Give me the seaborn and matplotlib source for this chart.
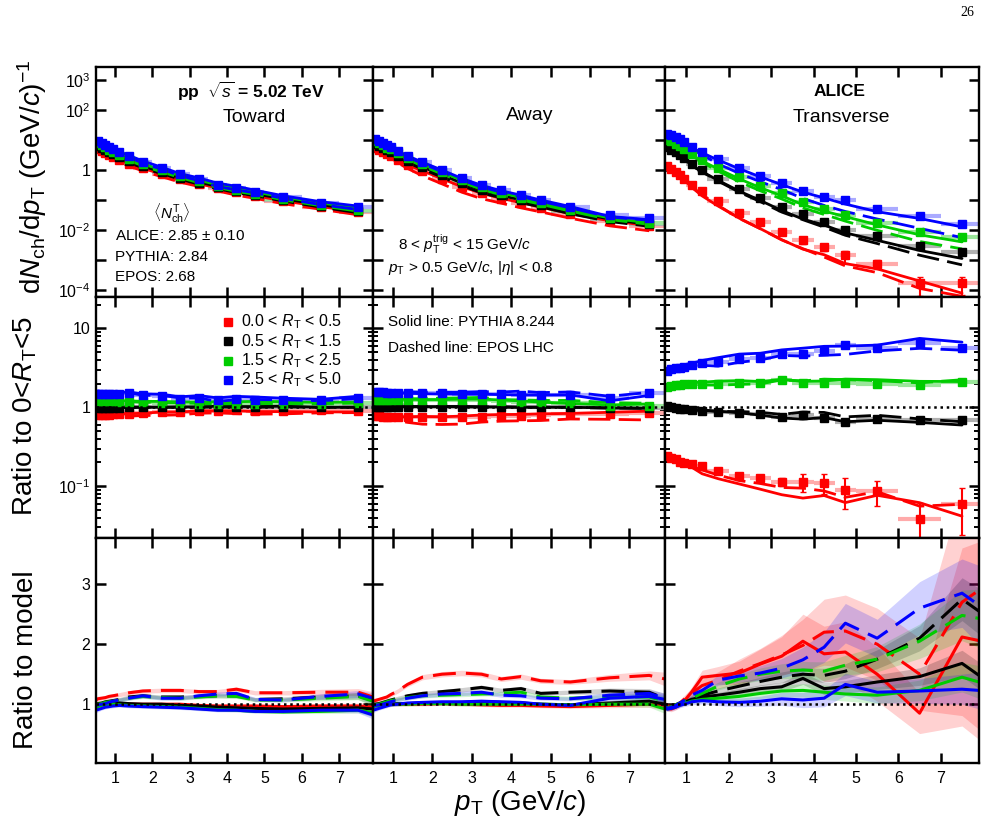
import numpy as np
import matplotlib
matplotlib.use("Agg")
import matplotlib.pyplot as plt
import seaborn as sns
from matplotlib.ticker import FixedLocator, NullLocator, LogLocator, FuncFormatter, NullFormatter

sns.set_theme(style="ticks")
plt.rcParams['font.family'] = ['Liberation Sans', 'DejaVu Sans']
plt.rcParams['mathtext.fontset'] = 'custom'
plt.rcParams['mathtext.rm'] = 'Liberation Sans'
plt.rcParams['mathtext.it'] = 'Liberation Sans:italic'
plt.rcParams['mathtext.bf'] = 'Liberation Sans:bold'
for k in ['text.color', 'axes.labelcolor', 'xtick.color', 'ytick.color', 'axes.edgecolor']:
    plt.rcParams[k] = 'black'

# ===== pT bins =====
pt_edges = [0.5, 0.6, 0.7, 0.8, 0.9, 1.0, 1.25, 1.5, 2.0, 2.5, 3.0, 3.5, 4.0, 4.5, 5.0, 6.0, 7.0, 8.0]
model_pt = [0.5, 0.55, 0.65, 0.75, 0.85, 0.95, 1.125, 1.375, 1.75, 2.25, 2.75, 3.25, 3.75, 4.25,
            4.75, 5.5, 6.5, 7.5, 7.9]

# ===== 0<RT<5 spectra (per region) =====
toward_incl = [6.5, 5.5, 4.7, 4.0, 3.4, 2.7, 2.0, 1.35, 0.85, 0.55, 0.38, 0.27, 0.2, 0.15, 0.1, 0.065, 0.043]
away_incl = [7.2, 6.2, 5.3, 4.5, 3.9, 2.85, 2.0, 1.25, 0.69, 0.37, 0.22, 0.145, 0.103, 0.07, 0.042, 0.024, 0.0165]
trans_incl = [5.6, 4.8, 4.0, 3.3, 2.6, 1.7, 1.1, 0.6, 0.28, 0.148, 0.076, 0.042, 0.025, 0.016, 0.0088, 0.0045, 0.0028]

# ===== ratio to 0<RT<5 (data) =====
toward_ratio_red = [0.79, 0.79, 0.8, 0.8, 0.81, 0.82, 0.82, 0.84, 0.87, 0.88, 0.9, 0.9, 0.91, 0.9, 0.9, 0.91, 0.9]
toward_ratio_black = [0.98, 0.98, 0.99, 0.99, 0.99, 0.99, 1.0, 1.0, 1.0, 1.0, 1.0, 1.01, 1.0, 1.0, 1.01, 1.0, 1.0]
toward_ratio_green = [1.2, 1.2, 1.2, 1.19, 1.19, 1.18, 1.17, 1.15, 1.14, 1.12, 1.11, 1.1, 1.1, 1.1, 1.09, 1.09, 1.12]
toward_ratio_blue = [1.47, 1.47, 1.47, 1.48, 1.48, 1.49, 1.5, 1.42, 1.39, 1.29, 1.32, 1.22, 1.29, 1.25, 1.22, 1.22, 1.32]

away_ratio_red = [0.78, 0.77, 0.76, 0.76, 0.75, 0.75, 0.75, 0.75, 0.75, 0.75, 0.76, 0.77, 0.78, 0.8, 0.81, 0.83, 0.85]
away_ratio_black = [1.02, 1.02, 1.02, 1.02, 1.02, 1.02, 1.02, 1.02, 1.02, 1.02, 1.01, 1.01, 1.0, 1.0, 1.0, 0.98, 0.97]
away_ratio_green = [1.25, 1.25, 1.25, 1.25, 1.25, 1.25, 1.25, 1.24, 1.24, 1.23, 1.22, 1.2, 1.18, 1.16, 1.12, 1.05, 1.05]
away_ratio_blue = [1.55, 1.55, 1.54, 1.53, 1.53, 1.52, 1.52, 1.5, 1.5, 1.48, 1.48, 1.46, 1.45, 1.43, 1.42, 1.3, 1.52]

trans_ratio_red = [0.242, 0.23, 0.22, 0.203, 0.195, 0.19, 0.181, 0.156, 0.135, 0.125, 0.113, 0.113, 0.111, 0.089, 0.087, 0.038, 0.06]
trans_ratio_black = [1.04, 1.0, 0.98, 0.96, 0.94, 0.92, 0.9, 0.87, 0.85, 0.82, 0.76, 0.79, 0.74, 0.65, 0.71, 0.68, 0.68]
trans_ratio_green = [1.83, 1.86, 1.9, 1.91, 1.95, 1.98, 1.95, 2.0, 2.05, 2.05, 2.22, 2.05, 2.05, 2.05, 1.95, 1.9, 2.09]
trans_ratio_blue = [2.88, 3.03, 3.12, 3.18, 3.27, 3.4, 3.61, 3.75, 4.05, 4.17, 4.69, 4.69, 5.17, 6.1, 5.58, 6.6, 5.69]

# relative stat. errors
ta_stat = [0.005, 0.005, 0.005, 0.005, 0.005, 0.005, 0.005, 0.005, 0.005, 0.005, 0.005, 0.005, 0.01, 0.01, 0.01, 0.02, 0.02]
trans_stat_red = [0.02, 0.02, 0.02, 0.03, 0.03, 0.03, 0.04, 0.05, 0.07, 0.09, 0.12, 0.26, 0.28, 0.42, 0.35, 0.63, 0.6]
trans_stat_black = [0.01, 0.01, 0.01, 0.01, 0.01, 0.01, 0.01, 0.01, 0.02, 0.02, 0.03, 0.03, 0.04, 0.05, 0.05, 0.07, 0.08]
trans_stat_green = [0.01, 0.01, 0.01, 0.01, 0.01, 0.01, 0.01, 0.01, 0.01, 0.02, 0.02, 0.02, 0.03, 0.03, 0.03, 0.05, 0.06]
trans_stat_blue = [0.01, 0.01, 0.01, 0.01, 0.01, 0.01, 0.01, 0.01, 0.01, 0.01, 0.02, 0.02, 0.02, 0.03, 0.03, 0.04, 0.05]

# ===== data / model (bottom row, at model_pt) =====
toward_pythia_red = [0.97, 0.98, 0.99, 1.0, 1.0, 1.0, 1.0, 1.0, 1.0, 1.0, 1.0, 0.98, 0.97, 0.97, 0.97, 0.96, 0.97, 0.97, 0.95]
toward_pythia_black = [0.98, 0.99, 1.0, 1.01, 1.02, 1.02, 1.02, 1.01, 1.0, 1.0, 0.98, 0.97, 0.95, 0.94, 0.93, 0.92, 0.93, 0.94, 0.92]
toward_pythia_green = [0.95, 0.96, 0.98, 0.99, 1.0, 1.0, 0.99, 0.98, 0.97, 0.96, 0.95, 0.93, 0.91, 0.9, 0.88, 0.87, 0.88, 0.9, 0.86]
toward_pythia_blue = [0.9, 0.91, 0.93, 0.95, 0.96, 0.97, 0.98, 0.97, 0.96, 0.95, 0.94, 0.92, 0.9, 0.9, 0.88, 0.88, 0.9, 0.9, 0.82]
toward_epos_red = [1.07, 1.09, 1.1, 1.11, 1.13, 1.14, 1.16, 1.19, 1.22, 1.23, 1.23, 1.21, 1.21, 1.25, 1.19, 1.19, 1.2, 1.2, 1.12]
toward_epos_black = [1.0, 1.01, 1.02, 1.04, 1.05, 1.06, 1.08, 1.12, 1.14, 1.12, 1.12, 1.13, 1.14, 1.14, 1.08, 1.09, 1.12, 1.14, 1.06]
toward_epos_green = [1.0, 1.0, 1.01, 1.03, 1.04, 1.05, 1.07, 1.1, 1.13, 1.11, 1.1, 1.12, 1.14, 1.13, 1.07, 1.07, 1.1, 1.13, 1.05]
toward_epos_blue = [0.98, 0.99, 1.0, 1.01, 1.03, 1.05, 1.07, 1.1, 1.14, 1.1, 1.1, 1.14, 1.17, 1.18, 1.08, 1.07, 1.13, 1.17, 1.1]

away_pythia_red = [0.98, 0.98, 0.99, 1.0, 1.0, 1.0, 1.0, 1.0, 1.0, 1.01, 1.0, 0.99, 0.98, 0.98, 0.97, 0.96, 0.98, 1.0, 0.98]
away_pythia_black = [0.97, 0.98, 0.99, 1.0, 1.0, 1.0, 1.01, 1.01, 1.02, 1.02, 1.03, 1.04, 1.03, 1.02, 1.0, 0.99, 1.02, 1.05, 1.0]
away_pythia_green = [0.96, 0.97, 0.98, 0.99, 1.0, 1.0, 1.0, 1.0, 1.01, 1.01, 1.0, 1.0, 1.0, 1.0, 1.0, 0.99, 1.0, 1.0, 0.92]
away_pythia_blue = [0.9, 0.91, 0.93, 0.95, 0.97, 0.99, 1.0, 1.02, 1.03, 1.04, 1.04, 1.05, 1.04, 1.03, 1.0, 0.98, 1.1, 1.13, 1.08]
away_epos_red = [1.05, 1.06, 1.08, 1.1, 1.12, 1.16, 1.22, 1.33, 1.45, 1.5, 1.52, 1.5, 1.42, 1.46, 1.39, 1.37, 1.44, 1.48, 1.42]
away_epos_black = [1.0, 1.0, 1.01, 1.03, 1.05, 1.07, 1.1, 1.14, 1.18, 1.21, 1.24, 1.28, 1.23, 1.26, 1.18, 1.2, 1.22, 1.2, 1.09]
away_epos_green = [0.98, 0.99, 1.0, 1.02, 1.04, 1.06, 1.08, 1.11, 1.14, 1.15, 1.16, 1.17, 1.18, 1.2, 1.12, 1.1, 1.12, 1.12, 1.05]
away_epos_blue = [0.97, 0.98, 0.99, 1.0, 1.02, 1.04, 1.07, 1.1, 1.14, 1.17, 1.18, 1.2, 1.15, 1.14, 1.1, 1.09, 1.15, 1.18, 1.1]

trans_pythia_red = [0.95, 0.93, 0.92, 0.95, 1.0, 1.05, 1.2, 1.45, 1.48, 1.52, 1.67, 1.8, 2.05, 1.84, 1.87, 1.5, 0.85, 2.12, 2.06]
trans_pythia_black = [0.97, 0.93, 0.94, 0.96, 1.0, 1.03, 1.08, 1.12, 1.15, 1.2, 1.26, 1.29, 1.43, 1.26, 1.29, 1.37, 1.46, 1.68, 1.48]
trans_pythia_green = [0.95, 0.93, 0.94, 0.96, 0.99, 1.01, 1.05, 1.08, 1.1, 1.13, 1.18, 1.22, 1.23, 1.2, 1.17, 1.15, 1.23, 1.45, 1.37]
trans_pythia_blue = [0.95, 0.92, 0.93, 0.95, 0.98, 1.0, 1.04, 1.06, 1.04, 1.03, 1.05, 1.09, 1.07, 1.1, 1.33, 1.2, 1.22, 1.25, 1.23]
trans_epos_red = [1.0, 0.97, 0.96, 0.98, 1.02, 1.08, 1.18, 1.31, 1.4, 1.55, 1.68, 1.82, 1.98, 2.2, 2.22, 2.0, 1.5, 2.7, 2.9]
trans_epos_black = [0.97, 0.94, 0.96, 0.99, 1.02, 1.05, 1.1, 1.15, 1.22, 1.3, 1.38, 1.45, 1.5, 1.48, 1.55, 1.75, 2.1, 2.75, 2.55]
trans_epos_green = [0.97, 0.94, 0.96, 0.99, 1.02, 1.05, 1.1, 1.18, 1.3, 1.42, 1.5, 1.55, 1.57, 1.55, 1.65, 1.75, 2.05, 2.48, 2.43]
trans_epos_blue = [0.97, 0.93, 0.95, 0.98, 1.02, 1.06, 1.15, 1.23, 1.4, 1.47, 1.52, 1.6, 1.74, 1.95, 2.35, 2.1, 2.6, 2.85, 2.65]

# data / model for 0<RT<5 (needed for the model curves in the middle row)
toward_incl_pythia = [1.0, 1.0, 1.0, 1.0, 1.01, 1.01, 1.01, 1.0, 1.0, 0.99, 0.98, 0.97, 0.96, 0.95, 0.94, 0.93, 0.94]
toward_incl_epos = [1.01, 1.02, 1.04, 1.05, 1.06, 1.08, 1.12, 1.14, 1.12, 1.12, 1.13, 1.14, 1.14, 1.08, 1.09, 1.12, 1.14]
away_incl_pythia = [0.98, 0.99, 1.0, 1.0, 1.0, 1.01, 1.01, 1.02, 1.02, 1.03, 1.04, 1.03, 1.02, 1.0, 0.99, 1.02, 1.05]
away_incl_epos = [1.0, 1.01, 1.03, 1.05, 1.07, 1.1, 1.14, 1.18, 1.21, 1.24, 1.28, 1.23, 1.26, 1.18, 1.2, 1.22, 1.2]
trans_incl_pythia = [1.0, 1.0, 1.02, 1.04, 1.06, 1.1, 1.15, 1.18, 1.2, 1.22, 1.24, 1.28, 1.26, 1.3, 1.32, 1.38, 1.47]
trans_incl_epos = [1.0, 1.0, 1.02, 1.04, 1.06, 1.1, 1.16, 1.24, 1.35, 1.45, 1.55, 1.65, 1.72, 1.8, 1.95, 2.2, 2.65]

# relative width of the uncertainty bands in the bottom row
ta_band = [0.05, 0.04, 0.03, 0.03, 0.03, 0.03, 0.03, 0.03, 0.03, 0.03, 0.03, 0.03, 0.03, 0.03, 0.03, 0.03, 0.04, 0.05, 0.08]
trans_band_red = [0.05, 0.05, 0.05, 0.05, 0.05, 0.06, 0.07, 0.08, 0.1, 0.13, 0.15, 0.18, 0.22, 0.25, 0.27, 0.3, 0.4, 0.7, 0.8]
trans_band_black = [0.04, 0.04, 0.03, 0.03, 0.03, 0.03, 0.03, 0.04, 0.04, 0.05, 0.05, 0.06, 0.07, 0.08, 0.08, 0.09, 0.1, 0.13, 0.15]
trans_band_green = [0.04, 0.04, 0.03, 0.03, 0.03, 0.03, 0.04, 0.04, 0.05, 0.06, 0.07, 0.08, 0.09, 0.1, 0.1, 0.12, 0.14, 0.17, 0.2]
trans_band_blue = [0.05, 0.04, 0.04, 0.04, 0.04, 0.04, 0.05, 0.05, 0.06, 0.07, 0.08, 0.1, 0.12, 0.13, 0.14, 0.15, 0.17, 0.2, 0.25]

classes = ['red', 'black', 'green', 'blue']
class_labels = ['0.0 < $R_{\\rm T}$ < 0.5', '0.5 < $R_{\\rm T}$ < 1.5',
                '1.5 < $R_{\\rm T}$ < 2.5', '2.5 < $R_{\\rm T}$ < 5.0']
colors = {'red': '#ff0000', 'black': '#000000', 'green': '#00cc00', 'blue': '#0000ff'}
light = {'red': '#ffaaaa', 'black': '#b0b0b0', 'green': '#9be69b', 'blue': '#aaaaff'}

regions = {
    'toward': dict(incl=toward_incl, incl_p=toward_incl_pythia, incl_e=toward_incl_epos,
                   ratio=dict(red=toward_ratio_red, black=toward_ratio_black, green=toward_ratio_green, blue=toward_ratio_blue),
                   stat=dict(red=ta_stat, black=ta_stat, green=ta_stat, blue=ta_stat),
                   pyth=dict(red=toward_pythia_red, black=toward_pythia_black, green=toward_pythia_green, blue=toward_pythia_blue),
                   epos=dict(red=toward_epos_red, black=toward_epos_black, green=toward_epos_green, blue=toward_epos_blue),
                   band=dict(red=ta_band, black=ta_band, green=ta_band, blue=ta_band)),
    'away': dict(incl=away_incl, incl_p=away_incl_pythia, incl_e=away_incl_epos,
                 ratio=dict(red=away_ratio_red, black=away_ratio_black, green=away_ratio_green, blue=away_ratio_blue),
                 stat=dict(red=ta_stat, black=ta_stat, green=ta_stat, blue=ta_stat),
                 pyth=dict(red=away_pythia_red, black=away_pythia_black, green=away_pythia_green, blue=away_pythia_blue),
                 epos=dict(red=away_epos_red, black=away_epos_black, green=away_epos_green, blue=away_epos_blue),
                 band=dict(red=ta_band, black=ta_band, green=ta_band, blue=ta_band)),
    'trans': dict(incl=trans_incl, incl_p=trans_incl_pythia, incl_e=trans_incl_epos,
                  ratio=dict(red=trans_ratio_red, black=trans_ratio_black, green=trans_ratio_green, blue=trans_ratio_blue),
                  stat=dict(red=trans_stat_red, black=trans_stat_black, green=trans_stat_green, blue=trans_stat_blue),
                  pyth=dict(red=trans_pythia_red, black=trans_pythia_black, green=trans_pythia_green, blue=trans_pythia_blue),
                  epos=dict(red=trans_epos_red, black=trans_epos_black, green=trans_epos_green, blue=trans_epos_blue),
                  band=dict(red=trans_band_red, black=trans_band_black, green=trans_band_green, blue=trans_band_blue)),
}

edges = np.array(pt_edges)
pt = 0.5 * (edges[1:] + edges[:-1])
half_w = 0.5 * (edges[1:] - edges[:-1])
mpt = np.array(model_pt)

# ===== layout (pixels) =====
W, H = 1006, 838
fig = plt.figure(figsize=(W / 100, H / 100), dpi=100)
cols = [(96, 373), (373, 665), (665, 979)]
rows = [(67, 297), (297, 538), (538, 763)]

DASH_TOP = (0, (8, 3))
DASH_BOT = (0, (7.5, 3.3))

top_lab = {3: '$10^{3}$', 2: '$10^{2}$', 0: '1', -2: '$10^{-2}$', -4: '$10^{-4}$'}
mid_lab = {1: '10', 0: '1', -1: '$10^{-1}$'}


def log_fmt(labels):
    def f(v, p):
        if v <= 0:
            return ''
        e = int(round(np.log10(v)))
        return labels.get(e, '')
    return FuncFormatter(f)


def style_ax(ax, r, c):
    ax.set_facecolor('white')
    ax.grid(False)
    ax.set_xlim(0.5, 7.9)
    ax.xaxis.set_major_locator(FixedLocator([1, 2, 3, 4, 5, 6, 7]))
    ax.xaxis.set_minor_locator(NullLocator())
    if r == 0:
        ax.set_yscale('log')
        ax.set_ylim(5.9e-5, 2.7e3)
        ax.yaxis.set_major_locator(FixedLocator([10.0 ** e for e in range(-4, 4)]))
        ax.yaxis.set_minor_locator(NullLocator())
        ax.yaxis.set_major_formatter(log_fmt(top_lab))
    elif r == 1:
        ax.set_yscale('log')
        ax.set_ylim(0.022, 25)
        ax.yaxis.set_major_locator(FixedLocator([0.01, 0.1, 1, 10]))
        ax.yaxis.set_minor_locator(LogLocator(base=10, subs=np.arange(2, 10), numticks=20))
        ax.yaxis.set_major_formatter(log_fmt(mid_lab))
        ax.yaxis.set_minor_formatter(NullFormatter())
    else:
        ax.set_ylim(0.02, 3.77)
        ax.yaxis.set_major_locator(FixedLocator([1, 2, 3]))
        ax.yaxis.set_minor_locator(NullLocator())
    ax.tick_params(which='major', direction='in', length=7, width=1.8, top=True, right=True,
                   labelsize=11.5, pad=4)
    ax.tick_params(which='minor', direction='in', length=3.5, width=1.4, top=True, right=True)
    ax.tick_params(axis='x', pad=6)
    ax.tick_params(labelbottom=(r == 2), labelleft=(c == 0))
    for s in ax.spines.values():
        s.set_linewidth(1.7)
        s.set_color('black')
        s.set_zorder(20)
    ax.set_xlabel('')
    ax.set_ylabel('')


def line(ax, x, y, color, ls, lw):
    sns.lineplot(x=x, y=y, ax=ax, color=color, linestyle=ls, linewidth=lw,
                 estimator=None, sort=False, legend=False, zorder=3)


for c, reg in enumerate(['toward', 'away', 'trans']):
    d = regions[reg]
    incl = np.array(d['incl'])
    axes = []
    for r in range(3):
        x0, x1 = cols[c]
        y0, y1 = rows[r]
        axes.append(fig.add_axes([x0 / W, 1 - y1 / H, (x1 - x0) / W, (y1 - y0) / H]))
    ax_top, ax_mid, ax_bot = axes

    for cls in classes:
        col = colors[cls]
        ratio = np.array(d['ratio'][cls])
        stat = np.array(d['stat'][cls])
        rp = np.array(d['pyth'][cls])
        re = np.array(d['epos'][cls])
        band = np.array(d['band'][cls])
        spec = ratio * incl

        # ----- spectra -----
        ax_top.errorbar(pt, spec, xerr=half_w, fmt='none', ecolor=light[cls], elinewidth=3, zorder=1)
        line(ax_top, pt, spec / rp[1:-1], col, '-', 2.0)
        line(ax_top, pt, spec / re[1:-1], col, DASH_TOP, 2.0)
        ax_top.errorbar(pt, spec, yerr=spec * stat, fmt='s', ms=5.8, color=col, mec=col,
                        ecolor=col, elinewidth=1.5, capsize=2, zorder=5)

        # ----- ratio to 0<RT<5 -----
        mid_p = ratio * np.array(d['incl_p']) / rp[1:-1]
        mid_e = ratio * np.array(d['incl_e']) / re[1:-1]
        ax_mid.errorbar(pt, ratio, xerr=half_w, fmt='none', ecolor=light[cls], elinewidth=3, zorder=1)
        line(ax_mid, pt, mid_p, col, '-', 2.0)
        line(ax_mid, pt, mid_e, col, DASH_TOP, 2.0)
        ax_mid.errorbar(pt, ratio, yerr=ratio * stat, fmt='s', ms=5.8, color=col, mec=col,
                        ecolor=col, elinewidth=1.5, capsize=2, zorder=5)

        # ----- ratio to model -----
        ax_bot.fill_between(mpt, rp * (1 - band), rp * (1 + band), color=col, alpha=0.18, lw=0, zorder=1)
        ax_bot.fill_between(mpt, re * (1 - band), re * (1 + band), color=col, alpha=0.18, lw=0, zorder=1)

    for cls in classes:
        col = colors[cls]
        line(ax_bot, mpt, np.array(d['pyth'][cls]), col, '-', 2.2)
        line(ax_bot, mpt, np.array(d['epos'][cls]), col, DASH_BOT, 2.2)

    for ax in (ax_mid, ax_bot):
        ax.axhline(1, color='black', ls=(0, (1, 1.5)), lw=1.8, zorder=10)

    for r, ax in enumerate(axes):
        style_ax(ax, r, c)

    if c == 0:
        for i, (cls, lab) in enumerate(zip(classes, class_labels)):
            y = (538 - (322 + 19.3 * i)) / 241
            ax_mid.plot([(228 - 96) / 277], [y], marker='s', ms=6, color=colors[cls], ls='none',
                        transform=ax_mid.transAxes, clip_on=False, zorder=30)
            ax_mid.text((241 - 96) / 277, y, lab, transform=ax_mid.transAxes, fontsize=11.5,
                        va='center', ha='left')


def ftext(x, y, s, **kw):
    fig.text(x / W, 1 - y / H, s, **kw)


# ===== texts =====
ftext(251, 91, 'pp  $\\sqrt{s}$ = 5.02 TeV', fontsize=12.5, fontweight='bold', ha='center', va='center')
ftext(254, 117, 'Toward', fontsize=14, ha='center', va='center')
ftext(172, 213, '$\\langle N_{\\rm ch}^{\\rm T}\\rangle$', fontsize=11, ha='center', va='center')
ftext(115, 236, 'ALICE: 2.85 $\\pm$ 0.10', fontsize=11, ha='left', va='center')
ftext(115, 257, 'PYTHIA: 2.84', fontsize=11, ha='left', va='center')
ftext(115, 277, 'EPOS: 2.68', fontsize=11, ha='left', va='center')
ftext(530, 116, 'Away', fontsize=14, ha='center', va='center')
ftext(398, 250, '8 < $p_{\\rm T}^{\\rm trig}$ < 15 GeV/$c$', fontsize=11, ha='left', va='baseline')
ftext(388, 272, '$p_{\\rm T}$ > 0.5 GeV/$c$, |$\\eta$| < 0.8', fontsize=11, ha='left', va='baseline')
ftext(840, 91, 'ALICE', fontsize=12.5, fontweight='bold', ha='center', va='center')
ftext(841, 117, 'Transverse', fontsize=14, ha='center', va='center')
ftext(388, 322, 'Solid line: PYTHIA 8.244', fontsize=11, ha='left', va='center')
ftext(388, 348, 'Dashed line: EPOS LHC', fontsize=11, ha='left', va='center')
ftext(967, 12, '26', fontsize=10, family='Liberation Serif', ha='center', va='center')

ftext(41, 177, 'd$N_{\\rm ch}$/d$p_{\\rm T}$ (GeV/$c$)$^{-1}$', fontsize=20, rotation=90,
      rotation_mode='anchor', ha='center', va='baseline')
ftext(33, 416, 'Ratio to 0<$R_{\\rm T}$<5', fontsize=20, rotation=90,
      rotation_mode='anchor', ha='center', va='baseline')
ftext(33, 660, 'Ratio to model', fontsize=20, rotation=90,
      rotation_mode='anchor', ha='center', va='baseline')
ftext(520, 810, '$p_{\\rm T}$ (GeV/$c$)', fontsize=20, ha='center', va='baseline')

plt.savefig('out.png', dpi=100, facecolor='white')
